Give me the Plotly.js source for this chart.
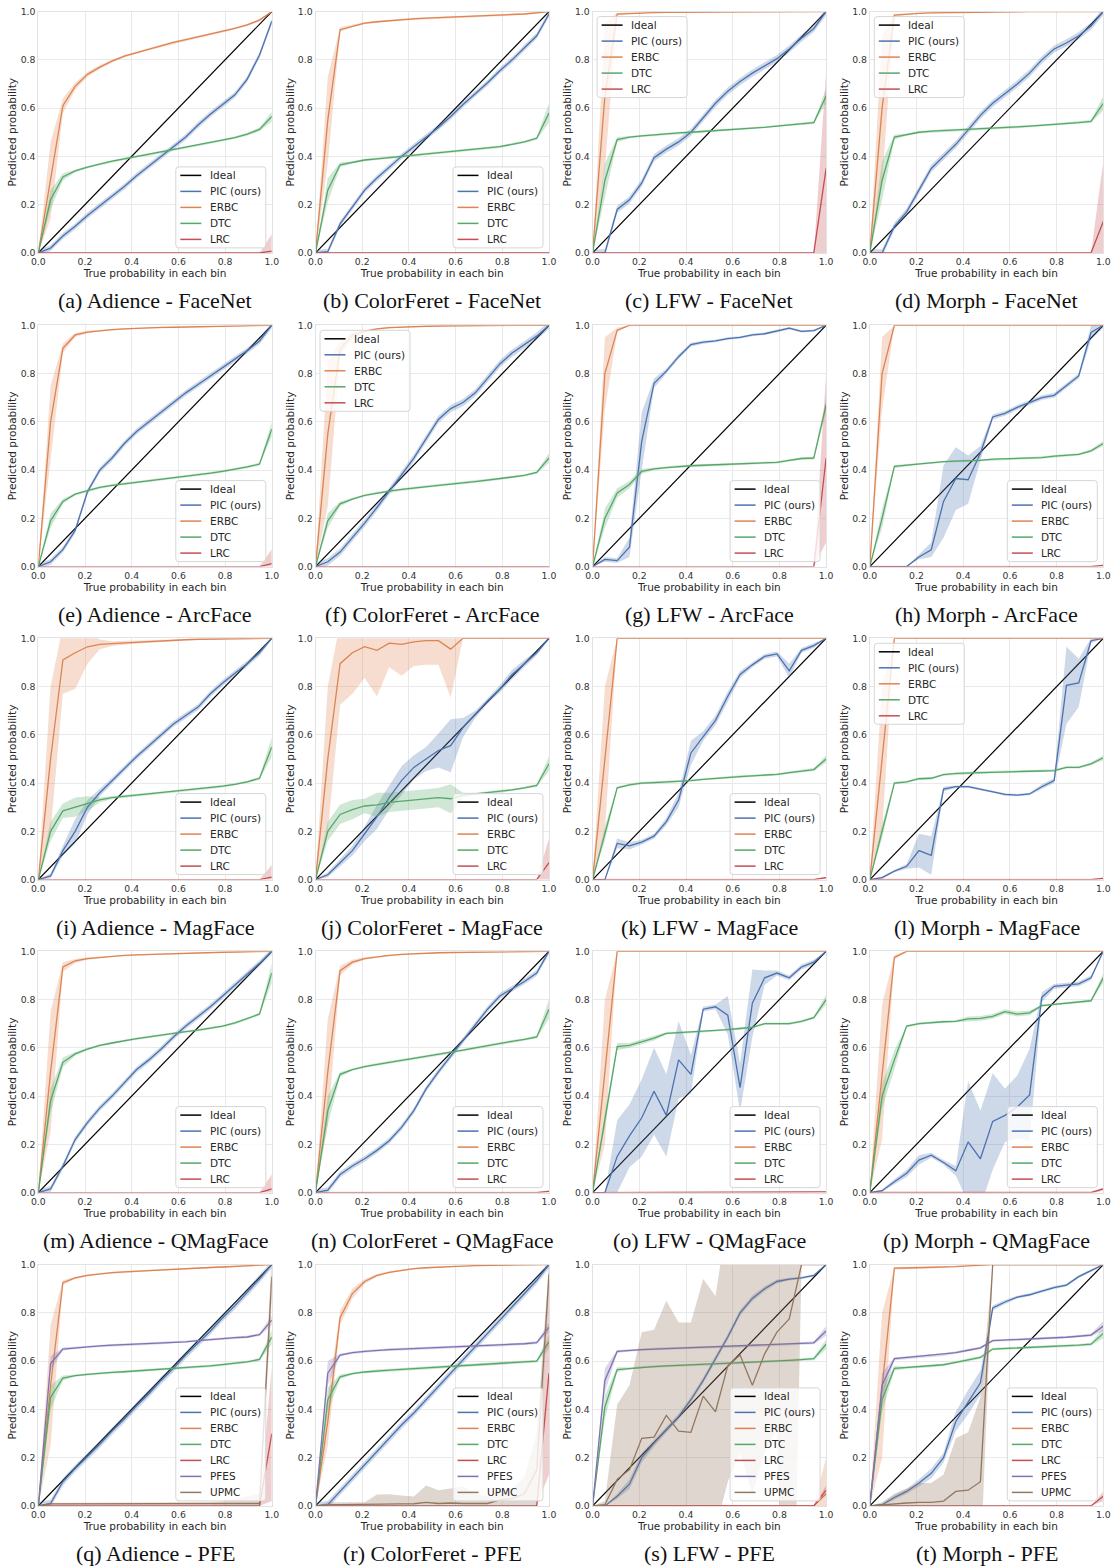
<!DOCTYPE html>
<html><head><meta charset="utf-8">
<script src="https://cdn.plot.ly/plotly-3.0.1.min.js"></script>
<style>html,body{margin:0;padding:0;background:#fff}</style>
</head><body><div id="chart" style="width:1116px;height:1568px"></div>
<script>
// ---------- shared axis data ----------
const xs = [0,0.0526,0.1053,0.1579,0.2105,0.2632,0.3158,0.3684,0.4211,0.4737,0.5263,0.5789,0.6316,0.6842,0.7368,0.7895,0.8421,0.8947,0.9474,1.0];
const tickVals = [0,0.2,0.4,0.6,0.8,1.0];
const tickText = ['0.0','0.2','0.4','0.6','0.8','1.0'];
const xTitle = 'True probability in each bin';
const yTitle = 'Predicted probability';
const captions = ['(a) Adience - FaceNet','(b) ColorFeret - FaceNet','(c) LFW - FaceNet','(d) Morph - FaceNet',
 '(e) Adience - ArcFace','(f) ColorFeret - ArcFace','(g) LFW - ArcFace','(h) Morph - ArcFace',
 '(i) Adience - MagFace','(j) ColorFeret - MagFace','(k) LFW - MagFace','(l) Morph - MagFace',
 '(m) Adience - QMagFace','(n) ColorFeret - QMagFace','(o) LFW - QMagFace','(p) Morph - QMagFace',
 '(q) Adience - PFE','(r) ColorFeret - PFE','(s) LFW - PFE','(t) Morph - PFE'];
const legendCorner = ['br','br','tl','tl','br','tl','br','br','br','br','br','tl','br','br','br','br','br','br','br','br'];

// ---------- (a) Adience - FaceNet ----------
const PIC_a=[0,0.02,0.07,0.11,0.155,0.195,0.235,0.275,0.32,0.36,0.40,0.44,0.48,0.53,0.575,0.615,0.655,0.72,0.82,0.96];
const ERBC_a=[0,0.3,0.61,0.69,0.74,0.77,0.795,0.815,0.83,0.845,0.86,0.872,0.884,0.895,0.907,0.918,0.93,0.945,0.965,1.0];
const ERBC_a_sd=[0,0.16,0.03,0.015,0.01,0.008,0.006,0.005,0.005,0.005,0.005,0.005,0.005,0.005,0.005,0.005,0.005,0.005,0.005,0];
const DTC_a=[0,0.22,0.315,0.34,0.355,0.368,0.38,0.39,0.40,0.408,0.418,0.428,0.437,0.447,0.457,0.467,0.478,0.492,0.512,0.565];
const DTC_a_sd=[0,0.04,0.015,0.006,0.005,0.005,0.005,0.005,0.005,0.005,0.005,0.005,0.005,0.005,0.005,0.005,0.005,0.006,0.008,0.02];
const LRC_a=[0,0,0,0,0,0,0,0,0,0,0,0,0,0,0,0,0,0,0,0.007];
const LRC_a_sd=[0,0,0,0,0,0,0,0,0,0,0,0,0,0,0,0,0,0,0,0.07];
// ---------- (b) ColorFeret - FaceNet ----------
const PIC_b=[0,0.005,0.12,0.19,0.26,0.31,0.355,0.40,0.44,0.48,0.52,0.565,0.615,0.66,0.705,0.755,0.80,0.85,0.90,0.99];
const ERBC_b=[0,0.55,0.925,0.94,0.952,0.958,0.963,0.967,0.97,0.973,0.975,0.977,0.979,0.981,0.983,0.985,0.987,0.99,0.995,1.0];
const ERBC_b_sd=[0,0.18,0.01,0.005,0.004,0.004,0.004,0.004,0.004,0.004,0.004,0.004,0.004,0.004,0.004,0.004,0.004,0.004,0.004,0];
const DTC_b=[0,0.26,0.365,0.375,0.385,0.39,0.395,0.40,0.405,0.41,0.415,0.42,0.425,0.43,0.435,0.44,0.45,0.46,0.475,0.58];
const DTC_b_sd=[0,0.05,0.01,0.005,0.005,0.005,0.005,0.005,0.005,0.005,0.005,0.005,0.005,0.005,0.005,0.005,0.005,0.005,0.006,0.04];
const LRC_b=[0,0,0,0,0,0,0,0,0,0,0,0,0,0,0,0,0,0,0,0];
// ---------- (c) LFW - FaceNet ----------
const PIC_c=[0,0,0.18,0.22,0.29,0.395,0.43,0.46,0.50,0.56,0.62,0.67,0.71,0.745,0.775,0.805,0.845,0.89,0.93,1.0];
const ERBC_c=[0,0.65,0.99,0.993,0.995,0.996,0.997,0.997,0.998,0.998,0.998,0.999,0.999,0.999,0.999,1,1,1,1,1];
const ERBC_c_sd=[0,0.3,0.005,0.003,0.002,0.002,0.002,0.002,0.002,0.002,0.002,0.001,0.001,0.001,0.001,0,0,0,0,0];
const DTC_c=[0,0.30,0.47,0.48,0.485,0.49,0.493,0.497,0.50,0.503,0.506,0.51,0.513,0.517,0.52,0.525,0.53,0.535,0.54,0.65];
const DTC_c_sd=[0,0.07,0.01,0.005,0.005,0.005,0.005,0.005,0.005,0.005,0.005,0.005,0.005,0.005,0.005,0.005,0.005,0.005,0.006,0.03];
const LRC_c=[0,0,0,0,0,0,0,0,0,0,0,0,0,0,0,0,0,0,0,0.35];
const LRC_c_sd=[0,0,0,0,0,0,0,0,0,0,0,0,0,0,0,0,0,0,0,0.4];
// ---------- (d) Morph - FaceNet ----------
const PIC_d=[0,0,0.11,0.17,0.26,0.35,0.40,0.45,0.51,0.57,0.62,0.66,0.70,0.745,0.80,0.845,0.87,0.90,0.94,1.0];
const ERBC_d=[0,0.6,0.985,0.99,0.993,0.995,0.996,0.997,0.998,0.998,0.999,0.999,1,1,1,1,1,1,1,1];
const ERBC_d_sd=[0,0.3,0.005,0.003,0.002,0.002,0.002,0.002,0.002,0.002,0.001,0.001,0,0,0,0,0,0,0,0];
const DTC_d=[0,0.30,0.48,0.49,0.50,0.505,0.507,0.51,0.512,0.515,0.517,0.52,0.522,0.525,0.528,0.532,0.535,0.54,0.545,0.62];
const DTC_d_sd=[0,0.08,0.01,0.005,0.005,0.005,0.005,0.005,0.005,0.005,0.005,0.005,0.005,0.005,0.005,0.005,0.005,0.005,0.006,0.03];
const LRC_d=[0,0,0,0,0,0,0,0,0,0,0,0,0,0,0,0,0,0,0,0.13];
const LRC_d_sd=[0,0,0,0,0,0,0,0,0,0,0,0,0,0,0,0,0,0,0,0.25];
// ---------- (e) Adience - ArcFace ----------
const PIC_e=[0,0.02,0.07,0.15,0.31,0.40,0.45,0.51,0.56,0.60,0.64,0.68,0.72,0.755,0.79,0.825,0.86,0.895,0.935,1.0];
const ERBC_e=[0,0.6,0.905,0.96,0.972,0.978,0.982,0.985,0.988,0.99,0.991,0.992,0.993,0.994,0.995,0.996,0.997,0.998,0.999,1.0];
const ERBC_e_sd=[0,0.15,0.02,0.008,0.005,0.004,0.003,0.003,0.003,0.002,0.002,0.002,0.002,0.002,0.002,0.002,0.002,0.001,0.001,0];
const DTC_e=[0,0.19,0.27,0.30,0.315,0.328,0.337,0.343,0.35,0.356,0.362,0.368,0.374,0.38,0.387,0.395,0.403,0.413,0.425,0.57];
const DTC_e_sd=[0,0.03,0.01,0.005,0.005,0.005,0.005,0.005,0.005,0.005,0.005,0.005,0.005,0.005,0.005,0.005,0.005,0.005,0.006,0.03];
const LRC_e=[0,0,0,0,0,0,0,0,0,0,0,0,0,0,0,0,0,0,0,0.012];
const LRC_e_sd=[0,0,0,0,0,0,0,0,0,0,0,0,0,0,0,0,0,0,0,0.06];
// ---------- (f) ColorFeret - ArcFace ----------
const PIC_f=[0,0.02,0.06,0.12,0.18,0.245,0.31,0.38,0.45,0.53,0.61,0.655,0.68,0.72,0.78,0.84,0.885,0.92,0.955,1.0];
const ERBC_f=[0,0.55,0.90,0.96,0.975,0.985,0.99,0.993,0.995,0.996,0.997,0.998,0.998,0.999,0.999,1,1,1,1,1];
const ERBC_f_sd=[0,0.3,0.03,0.01,0.005,0.004,0.003,0.002,0.002,0.002,0.002,0.001,0.001,0.001,0.001,0,0,0,0,0];
const DTC_f=[0,0.19,0.26,0.28,0.295,0.305,0.313,0.32,0.326,0.332,0.337,0.342,0.347,0.352,0.358,0.364,0.37,0.378,0.39,0.45];
const DTC_f_sd=[0,0.03,0.01,0.005,0.005,0.005,0.005,0.005,0.005,0.005,0.005,0.005,0.005,0.005,0.005,0.005,0.005,0.005,0.005,0.02];
const LRC_f=[0,0,0,0,0,0,0,0,0,0,0,0,0,0,0,0,0,0,0,0];
// ---------- (g) LFW - ArcFace ----------
const PIC_g=[0,0.03,0.025,0.08,0.52,0.76,0.81,0.87,0.92,0.93,0.935,0.945,0.95,0.96,0.965,0.975,0.988,0.975,0.978,1.0];
const PIC_g_sd=[0,0.01,0.01,0.04,0.12,0.02,0.01,0.01,0.008,0.006,0.005,0.005,0.005,0.005,0.005,0.005,0.005,0.005,0.005,0];
const ERBC_g=[0,0.8,0.98,1,1,1,1,1,1,1,1,1,1,1,1,1,1,1,1,1];
const ERBC_g_sd=[0,0.15,0.01,0,0,0,0,0,0,0,0,0,0,0,0,0,0,0,0,0];
const DTC_g=[0,0.2,0.305,0.34,0.395,0.405,0.41,0.415,0.418,0.42,0.422,0.425,0.427,0.428,0.43,0.432,0.44,0.448,0.45,0.67];
const DTC_g_sd=[0,0.04,0.02,0.015,0.01,0.006,0.005,0.005,0.005,0.005,0.005,0.005,0.005,0.005,0.005,0.005,0.005,0.005,0.006,0.03];
const LRC_g=[0,0,0,0,0,0,0,0,0,0,0,0,0,0,0,0,0,0,0,0.45];
const LRC_g_sd=[0,0,0,0,0,0,0,0,0,0,0,0,0,0,0,0,0,0,0,0.35];
// ---------- (h) Morph - ArcFace ----------
const PIC_h=[0,0,0,0,0.04,0.07,0.27,0.365,0.36,0.47,0.62,0.635,0.66,0.68,0.70,0.71,0.75,0.79,0.97,1.0];
const PIC_h_sd=[0,0,0,0,0.01,0.03,0.15,0.13,0.1,0.03,0.01,0.01,0.01,0.01,0.01,0.01,0.01,0.01,0.03,0.01];
const ERBC_h=[0,0.8,1,1,1,1,1,1,1,1,1,1,1,1,1,1,1,1,1,1];
const ERBC_h_sd=[0,0.15,0,0,0,0,0,0,0,0,0,0,0,0,0,0,0,0,0,0];
const DTC_h=[0,0.2,0.415,0.42,0.427,0.43,0.435,0.437,0.438,0.44,0.445,0.447,0.448,0.45,0.452,0.458,0.46,0.465,0.48,0.51];
const DTC_h_sd=[0,0.04,0.006,0.005,0.005,0.005,0.005,0.005,0.005,0.005,0.005,0.005,0.005,0.005,0.005,0.005,0.005,0.005,0.006,0.01];
const LRC_h=[0,0,0,0,0,0,0,0,0,0,0,0,0,0,0,0,0,0,0,0.005];
// ---------- (i) Adience - MagFace ----------
const PIC_i=[0,0.015,0.12,0.2,0.3,0.36,0.41,0.46,0.51,0.555,0.60,0.645,0.68,0.715,0.77,0.815,0.855,0.895,0.94,1.0];
const PIC_i_sd=[0,0.01,0.02,0.05,0.03,0.015,0.012,0.012,0.012,0.012,0.012,0.012,0.012,0.012,0.012,0.012,0.012,0.012,0.012,0.005];
const ERBC_i=[0,0.5,0.91,0.94,0.965,0.975,0.978,0.981,0.984,0.987,0.99,0.992,0.994,0.996,0.997,0.998,0.999,1,1,1];
const ERBC_i_sd=[0,0.3,0.14,0.15,0.07,0.02,0.01,0.008,0.006,0.005,0.004,0.004,0.003,0.003,0.002,0.002,0.001,0,0,0];
const DTC_i=[0,0.2,0.285,0.30,0.315,0.33,0.34,0.345,0.35,0.355,0.36,0.365,0.37,0.375,0.38,0.387,0.395,0.405,0.42,0.55];
const DTC_i_sd=[0,0.04,0.03,0.04,0.03,0.01,0.006,0.005,0.005,0.005,0.005,0.005,0.005,0.005,0.005,0.005,0.005,0.005,0.006,0.04];
const LRC_i=[0,0,0,0,0,0,0,0,0,0,0,0,0,0,0,0,0,0,0,0.01];
const LRC_i_sd=[0,0,0,0,0,0,0,0,0,0,0,0,0,0,0,0,0,0,0,0.05];
// ---------- (j) ColorFeret - MagFace ----------
const PIC_j=[0,0.02,0.07,0.12,0.19,0.26,0.34,0.41,0.465,0.50,0.535,0.555,0.63,0.685,0.74,0.79,0.85,0.895,0.94,1.0];
const PIC_j_sd=[0,0.01,0.015,0.02,0.03,0.05,0.05,0.06,0.05,0.05,0.07,0.11,0.04,0.015,0.01,0.015,0.02,0.015,0.01,0.005];
const ERBC_j=[0,0.5,0.895,0.94,0.965,0.95,0.98,0.975,0.985,0.99,0.99,0.955,1,1,1,1,1,1,1,1];
const ERBC_j_sd=[0,0.3,0.17,0.17,0.13,0.19,0.1,0.13,0.1,0.1,0.1,0.2,0,0,0,0,0,0,0,0];
const DTC_j=[0,0.2,0.27,0.29,0.305,0.31,0.32,0.325,0.33,0.335,0.34,0.335,0.35,0.355,0.36,0.365,0.372,0.38,0.39,0.48];
const DTC_j_sd=[0,0.04,0.04,0.04,0.03,0.05,0.04,0.04,0.04,0.04,0.04,0.06,0.01,0.005,0.005,0.005,0.005,0.005,0.006,0.03];
const LRC_j=[0,0,0,0,0,0,0,0,0,0,0,0,0,0,0,0,0,0,0,0.07];
const LRC_j_sd=[0,0,0,0,0,0,0,0,0,0,0,0,0,0,0,0,0,0,0,0.1];
// ---------- (k) LFW - MagFace ----------
const PIC_k=[0,0,0.15,0.14,0.155,0.18,0.24,0.33,0.525,0.595,0.66,0.76,0.85,0.89,0.925,0.935,0.865,0.95,0.97,1.0];
const PIC_k_sd=[0,0,0.02,0.015,0.01,0.01,0.015,0.03,0.05,0.02,0.02,0.02,0.015,0.01,0.01,0.01,0.03,0.01,0.01,0];
const ERBC_k=[0,0.5,1,1,1,1,1,1,1,1,1,1,1,1,1,1,1,1,1,1];
const ERBC_k_sd=[0,0.3,0,0,0,0,0,0,0,0,0,0,0,0,0,0,0,0,0,0];
const DTC_k=[0,0.19,0.38,0.393,0.40,0.402,0.404,0.406,0.41,0.415,0.42,0.424,0.427,0.43,0.432,0.436,0.443,0.45,0.456,0.50];
const DTC_k_sd=[0,0.03,0.005,0.005,0.005,0.005,0.005,0.005,0.005,0.005,0.005,0.005,0.005,0.005,0.005,0.005,0.005,0.005,0.006,0.015];
const LRC_k=[0,0,0,0,0,0,0,0,0,0,0,0,0,0,0,0,0,0,0,0.008];
// ---------- (l) Morph - MagFace ----------
const PIC_l=[0,0.008,0.035,0.055,0.12,0.10,0.375,0.385,0.385,0.375,0.365,0.353,0.35,0.355,0.385,0.41,0.805,0.815,0.99,1.0];
const PIC_l_sd=[0,0.005,0.005,0.01,0.07,0.08,0.01,0.005,0.005,0.005,0.005,0.005,0.005,0.005,0.01,0.01,0.16,0.1,0.01,0];
const ERBC_l=[0,0.5,1,1,1,1,1,1,1,1,1,1,1,1,1,1,1,1,1,1];
const ERBC_l_sd=[0,0.3,0,0,0,0,0,0,0,0,0,0,0,0,0,0,0,0,0,0];
const DTC_l=[0,0.2,0.40,0.405,0.418,0.42,0.435,0.44,0.442,0.444,0.446,0.447,0.448,0.449,0.45,0.452,0.465,0.465,0.48,0.505];
const DTC_l_sd=[0,0.03,0.005,0.005,0.005,0.005,0.005,0.005,0.005,0.005,0.005,0.005,0.005,0.005,0.005,0.005,0.005,0.005,0.006,0.01];
const LRC_l=[0,0,0,0,0,0,0,0,0,0,0,0,0,0,0,0,0,0,0,0.005];
// ---------- (m) Adience - QMagFace ----------
const PIC_m=[0,0.015,0.11,0.22,0.29,0.35,0.40,0.455,0.51,0.55,0.595,0.645,0.69,0.73,0.77,0.815,0.86,0.905,0.95,1.0];
const ERBC_m=[0,0.5,0.935,0.96,0.97,0.975,0.98,0.983,0.985,0.987,0.989,0.991,0.992,0.994,0.995,0.996,0.997,0.998,0.999,1];
const ERBC_m_sd=[0,0.25,0.02,0.008,0.005,0.004,0.003,0.003,0.003,0.002,0.002,0.002,0.002,0.002,0.002,0.002,0.002,0.001,0.001,0];
const DTC_m=[0,0.38,0.54,0.575,0.595,0.61,0.62,0.63,0.638,0.645,0.653,0.66,0.667,0.673,0.68,0.69,0.703,0.72,0.74,0.91];
const DTC_m_sd=[0,0.05,0.02,0.008,0.005,0.005,0.005,0.005,0.005,0.005,0.005,0.005,0.005,0.005,0.005,0.005,0.005,0.005,0.006,0.04];
const LRC_m=[0,0,0,0,0,0,0,0,0,0,0,0,0,0,0,0,0,0,0,0.015];
const LRC_m_sd=[0,0,0,0,0,0,0,0,0,0,0,0,0,0,0,0,0,0,0,0.06];
// ---------- (n) ColorFeret - QMagFace ----------
const PIC_n=[0,0.01,0.075,0.11,0.14,0.175,0.215,0.27,0.34,0.43,0.50,0.565,0.63,0.695,0.76,0.815,0.845,0.875,0.91,1.0];
const ERBC_n=[0,0.5,0.92,0.955,0.97,0.978,0.983,0.987,0.99,0.992,0.994,0.995,0.996,0.997,0.998,0.998,0.999,0.999,1,1];
const ERBC_n_sd=[0,0.22,0.02,0.01,0.005,0.004,0.003,0.003,0.002,0.002,0.002,0.002,0.002,0.002,0.001,0.001,0.001,0.001,0,0];
const DTC_n=[0,0.34,0.49,0.51,0.522,0.532,0.54,0.548,0.556,0.564,0.572,0.58,0.59,0.60,0.61,0.62,0.627,0.635,0.645,0.76];
const DTC_n_sd=[0,0.06,0.01,0.005,0.005,0.005,0.005,0.005,0.005,0.005,0.005,0.005,0.005,0.005,0.005,0.005,0.005,0.005,0.006,0.04];
const LRC_n=[0,0,0,0,0,0,0,0,0,0,0,0,0,0,0,0,0,0,0,0.005];
// ---------- (o) LFW - QMagFace ----------
const PIC_o=[0,0,0.15,0.235,0.31,0.42,0.32,0.55,0.49,0.76,0.77,0.735,0.435,0.785,0.89,0.91,0.89,0.935,0.955,1.0];
const PIC_o_sd=[0,0,0.15,0.13,0.16,0.18,0.17,0.16,0.08,0.01,0.01,0.08,0.1,0.14,0.03,0.01,0.01,0.01,0.01,0];
const ERBC_o=[0,0.5,1,1,1,1,1,1,1,1,1,1,1,1,1,1,1,1,1,1];
const ERBC_o_sd=[0,0.3,0,0,0,0,0,0,0,0,0,0,0,0,0,0,0,0,0,0];
const DTC_o=[0,0.3,0.605,0.61,0.625,0.64,0.66,0.663,0.665,0.668,0.67,0.675,0.68,0.685,0.70,0.70,0.70,0.71,0.725,0.80];
const DTC_o_sd=[0,0.03,0.015,0.01,0.01,0.01,0.005,0.005,0.005,0.005,0.005,0.005,0.005,0.005,0.005,0.005,0.005,0.005,0.006,0.02];
const LRC_o=[0,0,0,0,0,0,0,0,0,0,0,0,0,0,0,0,0,0,0,0.003];
// ---------- (p) Morph - QMagFace ----------
const PIC_p=[0,0.008,0.045,0.08,0.135,0.155,0.125,0.09,0.21,0.14,0.295,0.32,0.355,0.405,0.81,0.855,0.86,0.865,0.89,1.0];
const PIC_p_sd=[0,0.005,0.01,0.015,0.02,0.01,0.01,0.02,0.25,0.2,0.2,0.11,0.13,0.19,0.02,0.01,0.01,0.01,0.01,0];
const ERBC_p=[0,0.5,0.975,1,1,1,1,1,1,1,1,1,1,1,1,1,1,1,1,1];
const ERBC_p_sd=[0,0.28,0.01,0,0,0,0,0,0,0,0,0,0,0,0,0,0,0,0,0];
const DTC_p=[0,0.40,0.55,0.69,0.70,0.705,0.708,0.71,0.72,0.722,0.73,0.75,0.74,0.745,0.775,0.78,0.785,0.79,0.795,0.89];
const DTC_p_sd=[0,0.05,0.04,0.005,0.005,0.005,0.005,0.005,0.01,0.01,0.01,0.01,0.01,0.01,0.005,0.005,0.005,0.005,0.005,0.02];
const LRC_p=[0,0,0,0,0,0,0,0,0,0,0,0,0,0,0,0,0,0,0,0.015];
// ---------- (q) Adience - PFE ----------
const PIC_q=[0,0.01,0.10,0.155,0.205,0.255,0.31,0.36,0.415,0.465,0.52,0.57,0.625,0.675,0.725,0.78,0.83,0.885,0.94,1.0];
const ERBC_q=[0,0.5,0.925,0.945,0.955,0.962,0.967,0.97,0.973,0.976,0.978,0.981,0.983,0.986,0.988,0.99,0.992,0.994,0.997,1.0];
const ERBC_q_sd=[0,0.25,0.01,0.005,0.004,0.003,0.003,0.003,0.003,0.003,0.003,0.003,0.003,0.003,0.003,0.003,0.002,0.002,0.002,0];
const DTC_q=[0,0.45,0.53,0.54,0.545,0.55,0.553,0.556,0.56,0.563,0.566,0.57,0.573,0.577,0.58,0.585,0.59,0.597,0.607,0.70];
const DTC_q_sd=[0,0.05,0.01,0.005,0.005,0.005,0.005,0.005,0.005,0.005,0.005,0.005,0.005,0.005,0.005,0.005,0.005,0.005,0.006,0.03];
const LRC_q=[0,0,0,0,0,0,0,0,0,0,0,0,0,0,0,0,0,0,0,0.30];
const LRC_q_sd=[0,0,0,0,0,0,0,0,0,0,0,0,0,0,0,0,0,0,0,0.28];
const PFES_q=[0,0.59,0.65,0.655,0.66,0.663,0.666,0.668,0.67,0.672,0.675,0.678,0.68,0.685,0.69,0.693,0.697,0.70,0.71,0.77];
const PFES_q_sd=[0,0.03,0.006,0.005,0.005,0.005,0.005,0.005,0.005,0.005,0.005,0.005,0.005,0.005,0.005,0.005,0.005,0.005,0.006,0.02];
const UPMC_q=[0,0.008,0.008,0.008,0.008,0.009,0.009,0.009,0.009,0.009,0.01,0.01,0.01,0.01,0.01,0.01,0.01,0.01,0.01,0.95];
const UPMC_q_sd=[0,0.005,0.005,0.005,0.005,0.005,0.005,0.005,0.005,0.005,0.005,0.005,0.005,0.005,0.005,0.008,0.02,0.03,0.04,0.1];
// ---------- (r) ColorFeret - PFE ----------
const PIC_r=[0,0.005,0.06,0.115,0.17,0.225,0.28,0.335,0.385,0.44,0.495,0.55,0.605,0.66,0.715,0.77,0.825,0.88,0.935,1.0];
const ERBC_r=[0,0.35,0.78,0.88,0.93,0.955,0.968,0.977,0.983,0.987,0.99,0.992,0.994,0.996,0.997,0.998,0.999,0.999,1,1];
const ERBC_r_sd=[0,0.1,0.03,0.02,0.01,0.005,0.004,0.003,0.003,0.003,0.002,0.002,0.002,0.002,0.002,0.001,0.001,0.001,0,0];
const DTC_r=[0,0.44,0.535,0.548,0.555,0.56,0.563,0.566,0.569,0.572,0.575,0.578,0.58,0.583,0.586,0.589,0.592,0.596,0.60,0.68];
const DTC_r_sd=[0,0.05,0.01,0.005,0.005,0.005,0.005,0.005,0.005,0.005,0.005,0.005,0.005,0.005,0.005,0.005,0.005,0.005,0.006,0.03];
const LRC_r=[0,0,0,0,0,0,0,0,0,0,0,0,0,0,0,0,0,0,0,0.55];
const LRC_r_sd=[0,0,0,0,0,0,0,0,0,0,0,0,0,0,0,0,0,0,0,0.42];
const PFES_r=[0,0.55,0.625,0.635,0.64,0.645,0.648,0.65,0.652,0.654,0.656,0.658,0.66,0.662,0.664,0.666,0.668,0.672,0.677,0.74];
const PFES_r_sd=[0,0.05,0.006,0.005,0.005,0.005,0.005,0.005,0.005,0.005,0.005,0.005,0.005,0.005,0.005,0.005,0.005,0.005,0.006,0.02];
const UPMC_r=[0,0.005,0.005,0.005,0.005,0.007,0.008,0.008,0.009,0.015,0.01,0.012,0.01,0.01,0.01,0.025,0.03,0.05,0.15,0.96];
const UPMC_r_sd=[0,0.01,0.01,0.01,0.01,0.04,0.04,0.035,0.03,0.07,0.055,0.06,0.07,0.04,0.03,0.04,0.04,0.07,0.15,0.05];
// ---------- (s) LFW - PFE ----------
const PIC_s=[0,0,0.04,0.09,0.2,0.26,0.315,0.37,0.44,0.52,0.61,0.70,0.80,0.86,0.90,0.93,0.94,0.945,0.955,1.0];
const PIC_s_sd=[0,0,0.01,0.02,0.02,0.015,0.012,0.012,0.012,0.012,0.012,0.012,0.012,0.012,0.01,0.008,0.006,0.005,0.005,0];
const ERBC_s=[0,0,0,0,0,0,0,0,0,0,0,0,0,0,0,0,0,0,0,0.05];
const ERBC_s_sd=[0,0,0,0,0,0,0,0,0,0,0,0,0,0,0,0,0,0,0,0.15];
const DTC_s=[0,0.41,0.565,0.57,0.575,0.577,0.58,0.582,0.584,0.586,0.588,0.59,0.592,0.594,0.597,0.60,0.603,0.606,0.61,0.67];
const DTC_s_sd=[0,0.05,0.01,0.005,0.005,0.005,0.005,0.005,0.005,0.005,0.005,0.005,0.005,0.005,0.005,0.005,0.005,0.005,0.006,0.02];
const LRC_s=[0,0,0,0,0,0,0,0,0,0,0,0,0,0,0,0,0,0,0,0.065];
const LRC_s_sd=[0,0,0,0,0,0,0,0,0,0,0,0,0,0,0,0,0,0,0,0.02];
const PFES_s=[0,0.52,0.64,0.645,0.648,0.65,0.652,0.653,0.655,0.657,0.658,0.66,0.661,0.663,0.665,0.667,0.67,0.673,0.676,0.725];
const PFES_s_sd=[0,0.05,0.006,0.005,0.005,0.005,0.005,0.005,0.005,0.005,0.005,0.005,0.005,0.005,0.005,0.005,0.005,0.005,0.006,0.02];
const UPMC_s=[0,0.005,0.11,0.15,0.28,0.285,0.375,0.31,0.305,0.455,0.39,0.58,0.625,0.50,0.63,0.72,0.775,1.0,1.0,1.0];
const UPMC_s_lo=[0,0,-0.1,-0.2,-0.2,-0.2,-0.2,-0.2,-0.2,-0.2,-0.1,0.1,0.22,0.05,0.22,0.32,-1.5,1.0,1.0,1.0];
const UPMC_s_hi=[0,0.02,0.42,0.5,0.72,0.73,0.85,0.76,0.76,0.94,0.87,1.2,1.2,1.2,1.2,1.2,1.2,1.0,1.0,1.0];
// ---------- (t) Morph - PFE ----------
const PIC_t=[0,0.005,0.035,0.06,0.095,0.135,0.2,0.35,0.43,0.51,0.82,0.845,0.865,0.875,0.89,0.905,0.915,0.95,0.975,1.0];
const PIC_t_sd=[0,0.005,0.01,0.01,0.015,0.02,0.02,0.04,0.05,0.05,0.01,0.008,0.006,0.006,0.006,0.006,0.006,0.006,0.006,0];
const ERBC_t=[0,0.5,0.985,0.986,0.987,0.988,0.99,0.992,0.995,0.998,1,1,1,1,1,1,1,1,1,1];
const ERBC_t_sd=[0,0.3,0.005,0.004,0.004,0.004,0.003,0.003,0.002,0.001,0,0,0,0,0,0,0,0,0,0];
const DTC_t=[0,0.44,0.57,0.573,0.577,0.58,0.585,0.595,0.605,0.615,0.65,0.652,0.654,0.656,0.658,0.66,0.662,0.666,0.67,0.715];
const DTC_t_sd=[0,0.05,0.01,0.005,0.005,0.005,0.005,0.006,0.006,0.006,0.005,0.005,0.005,0.005,0.005,0.005,0.005,0.005,0.006,0.02];
const LRC_t=[0,0,0,0,0,0,0,0,0,0,0,0,0,0,0,0,0,0,0,0.04];
const LRC_t_sd=[0,0,0,0,0,0,0,0,0,0,0,0,0,0,0,0,0,0,0,0.02];
const PFES_t=[0,0.5,0.61,0.615,0.618,0.622,0.627,0.635,0.645,0.655,0.685,0.687,0.69,0.692,0.694,0.696,0.699,0.703,0.708,0.745];
const PFES_t_sd=[0,0.05,0.006,0.005,0.005,0.005,0.006,0.006,0.006,0.006,0.005,0.005,0.005,0.005,0.005,0.005,0.005,0.005,0.006,0.02];
const UPMC_t=[0,0.005,0.01,0.012,0.015,0.015,0.02,0.06,0.065,0.1,1,1,1,1,1,1,1,1,1,1];
const UPMC_t_sd=[0,0.01,0.04,0.06,0.08,0.08,0.11,0.22,0.24,0.35,0,0,0,0,0,0,0,0,0,0];

// ---------- panel composition ----------
const panels = [
 [['PIC',PIC_a,0.012],['ERBC',ERBC_a,ERBC_a_sd],['DTC',DTC_a,DTC_a_sd],['LRC',LRC_a,LRC_a_sd]],
 [['PIC',PIC_b,0.012],['ERBC',ERBC_b,ERBC_b_sd],['DTC',DTC_b,DTC_b_sd],['LRC',LRC_b,0.003]],
 [['PIC',PIC_c,0.015],['ERBC',ERBC_c,ERBC_c_sd],['DTC',DTC_c,DTC_c_sd],['LRC',LRC_c,LRC_c_sd]],
 [['PIC',PIC_d,0.015],['ERBC',ERBC_d,ERBC_d_sd],['DTC',DTC_d,DTC_d_sd],['LRC',LRC_d,LRC_d_sd]],
 [['PIC',PIC_e,0.012],['ERBC',ERBC_e,ERBC_e_sd],['DTC',DTC_e,DTC_e_sd],['LRC',LRC_e,LRC_e_sd]],
 [['PIC',PIC_f,0.015],['ERBC',ERBC_f,ERBC_f_sd],['DTC',DTC_f,DTC_f_sd],['LRC',LRC_f,0.003]],
 [['PIC',PIC_g,PIC_g_sd],['ERBC',ERBC_g,ERBC_g_sd],['DTC',DTC_g,DTC_g_sd],['LRC',LRC_g,LRC_g_sd]],
 [['PIC',PIC_h,PIC_h_sd],['ERBC',ERBC_h,ERBC_h_sd],['DTC',DTC_h,DTC_h_sd],['LRC',LRC_h,0.004]],
 [['PIC',PIC_i,PIC_i_sd],['ERBC',ERBC_i,ERBC_i_sd],['DTC',DTC_i,DTC_i_sd],['LRC',LRC_i,LRC_i_sd]],
 [['PIC',PIC_j,PIC_j_sd],['ERBC',ERBC_j,ERBC_j_sd],['DTC',DTC_j,DTC_j_sd],['LRC',LRC_j,LRC_j_sd]],
 [['PIC',PIC_k,PIC_k_sd],['ERBC',ERBC_k,ERBC_k_sd],['DTC',DTC_k,DTC_k_sd],['LRC',LRC_k,0.004]],
 [['PIC',PIC_l,PIC_l_sd],['ERBC',ERBC_l,ERBC_l_sd],['DTC',DTC_l,DTC_l_sd],['LRC',LRC_l,0.004]],
 [['PIC',PIC_m,0.012],['ERBC',ERBC_m,ERBC_m_sd],['DTC',DTC_m,DTC_m_sd],['LRC',LRC_m,LRC_m_sd]],
 [['PIC',PIC_n,0.012],['ERBC',ERBC_n,ERBC_n_sd],['DTC',DTC_n,DTC_n_sd],['LRC',LRC_n,0.004]],
 [['PIC',PIC_o,PIC_o_sd],['ERBC',ERBC_o,ERBC_o_sd],['DTC',DTC_o,DTC_o_sd],['LRC',LRC_o,0.003]],
 [['PIC',PIC_p,PIC_p_sd],['ERBC',ERBC_p,ERBC_p_sd],['DTC',DTC_p,DTC_p_sd],['LRC',LRC_p,0.006]],
 [['PIC',PIC_q,0.015],['ERBC',ERBC_q,ERBC_q_sd],['DTC',DTC_q,DTC_q_sd],['LRC',LRC_q,LRC_q_sd],['PFES',PFES_q,PFES_q_sd],['UPMC',UPMC_q,UPMC_q_sd]],
 [['PIC',PIC_r,0.015],['ERBC',ERBC_r,ERBC_r_sd],['DTC',DTC_r,DTC_r_sd],['LRC',LRC_r,LRC_r_sd],['PFES',PFES_r,PFES_r_sd],['UPMC',UPMC_r,UPMC_r_sd]],
 [['PIC',PIC_s,PIC_s_sd],['ERBC',ERBC_s,ERBC_s_sd],['DTC',DTC_s,DTC_s_sd],['LRC',LRC_s,LRC_s_sd],['PFES',PFES_s,PFES_s_sd],['UPMC',UPMC_s,{lo:UPMC_s_lo,hi:UPMC_s_hi}]],
 [['PIC',PIC_t,PIC_t_sd],['ERBC',ERBC_t,ERBC_t_sd],['DTC',DTC_t,DTC_t_sd],['LRC',LRC_t,LRC_t_sd],['PFES',PFES_t,PFES_t_sd],['UPMC',UPMC_t,UPMC_t_sd]]
];
const seriesNames = {PIC:'PIC (ours)',ERBC:'ERBC',DTC:'DTC',LRC:'LRC',PFES:'PFES',UPMC:'UPMC'};

// ---------- styles ----------
const colors = {PIC:[76,114,176],ERBC:[221,132,82],DTC:[85,168,104],LRC:[196,78,82],PFES:[129,114,179],UPMC:[147,120,96]};
const W=1116, H=1568, PW=233.5, PH=241.3;
const colL=[38.3,315.5,592.6,869.8];
const rowT=[11.6,325.3,638.3,951.3,1264.6];
const FONT='DejaVu Sans, Verdana, sans-serif';
const px=(v)=>v/W, py=(v)=>1-v/H;
const rgb=(c,a)=>a===undefined?`rgb(${c[0]},${c[1]},${c[2]})`:`rgba(${c[0]},${c[1]},${c[2]},${a})`;

const traces=[]; const layout={
  width:W,height:H,margin:{l:0,r:0,t:0,b:0},paper_bgcolor:'#fff',plot_bgcolor:'#fff',
  showlegend:false,annotations:[],shapes:[],font:{family:FONT,color:'#262626'}
};

function roundRect(l,t,w,h,rad){
  const r=l+w,b=t+h;
  return `M${px(l+rad)},${py(t)} L${px(r-rad)},${py(t)} Q${px(r)},${py(t)} ${px(r)},${py(t+rad)} L${px(r)},${py(b-rad)} Q${px(r)},${py(b)} ${px(r-rad)},${py(b)} L${px(l+rad)},${py(b)} Q${px(l)},${py(b)} ${px(l)},${py(b-rad)} L${px(l)},${py(t+rad)} Q${px(l)},${py(t)} ${px(l+rad)},${py(t)} Z`;
}

panels.forEach((series,k)=>{
  const r=Math.floor(k/4), c=k%4, n=k+1;
  const xa='x'+(n>1?n:''), ya='y'+(n>1?n:'');
  const ax={range:[0,1],tickvals:tickVals,ticktext:tickText,showgrid:true,gridcolor:'#e9e9e9',gridwidth:1,
    zeroline:false,showline:true,linecolor:'#e2e2e2',linewidth:1,mirror:true,ticks:'',
    tickfont:{family:FONT,size:9.3,color:'#333'},fixedrange:true};
  layout['xaxis'+(n>1?n:'')]=Object.assign({},ax,{domain:[px(colL[c]),px(colL[c]+PW)],anchor:ya,
    title:{text:xTitle,font:{family:FONT,size:10.5,color:'#262626'},standoff:1}});
  layout['yaxis'+(n>1?n:'')]=Object.assign({},ax,{domain:[py(rowT[r]+PH),py(rowT[r])],anchor:xa,
    title:{text:yTitle,font:{family:FONT,size:10.5,color:'#262626'},standoff:1}});
  // caption
  layout.annotations.push({text:captions[k],xref:'paper',yref:'paper',x:px(colL[c]+PW/2),y:py(rowT[r]+PH+48),
    xanchor:'center',yanchor:'middle',showarrow:false,font:{family:'Liberation Serif, Times New Roman, serif',size:22,color:'#111'}});
  // Ideal
  traces.push({x:xs,y:xs,mode:'lines',name:'Ideal',line:{color:'#000',width:1.2},xaxis:xa,yaxis:ya,hoverinfo:'skip'});
  const legItems=[['Ideal','#000']];
  series.forEach(([key,vals,band])=>{
    const col=colors[key];
    let lo,hi;
    if(typeof band==='number'){lo=vals.map(v=>v-band);hi=vals.map(v=>v+band);}
    else if(Array.isArray(band)){lo=vals.map((v,i)=>v-band[i]);hi=vals.map((v,i)=>v+band[i]);}
    else {lo=band.lo;hi=band.hi;}
    traces.push({x:xs.concat(xs.slice().reverse()),y:hi.concat(lo.slice().reverse()),mode:'lines',fill:'toself',
      fillcolor:rgb(col,key==='UPMC'?0.3:0.28),line:{width:0,color:'rgba(0,0,0,0)'},
      xaxis:xa,yaxis:ya,hoverinfo:'skip'});
    traces.push({x:xs,y:vals,mode:'lines',name:seriesNames[key],line:{color:rgb(col),width:1.3},
      xaxis:xa,yaxis:ya,hoverinfo:'skip'});
    legItems.push([seriesNames[key],rgb(col)]);
  });
  // legend box (matplotlib style)
  const nI=legItems.length, bw=90, bh=17+16*(nI-1);
  let bl,bt;
  if(legendCorner[k]==='br'){bl=colL[c]+PW-6-bw; bt=rowT[r]+PH-5-bh;}
  else {bl=colL[c]+4.5; bt=rowT[r]+5;}
  layout.shapes.push({type:'path',xref:'paper',yref:'paper',path:roundRect(bl,bt,bw,bh,3),
    fillcolor:'rgba(255,255,255,0.8)',line:{color:'#d6d6d6',width:1},layer:'above'});
  legItems.forEach(([name,col],i)=>{
    const cy=bt+8.5+16*i;
    layout.shapes.push({type:'line',xref:'paper',yref:'paper',x0:px(bl+4.5),x1:px(bl+25.5),y0:py(cy),y1:py(cy),
      line:{color:col,width:1.5},layer:'above'});
    layout.annotations.push({text:name,xref:'paper',yref:'paper',x:px(bl+33),y:py(cy),xanchor:'left',yanchor:'middle',
      showarrow:false,font:{family:FONT,size:10.5,color:'#262626'},borderpad:0});
  });
});

Plotly.newPlot('chart',traces,layout,{staticPlot:true,displayModeBar:false});
</script></body></html>
